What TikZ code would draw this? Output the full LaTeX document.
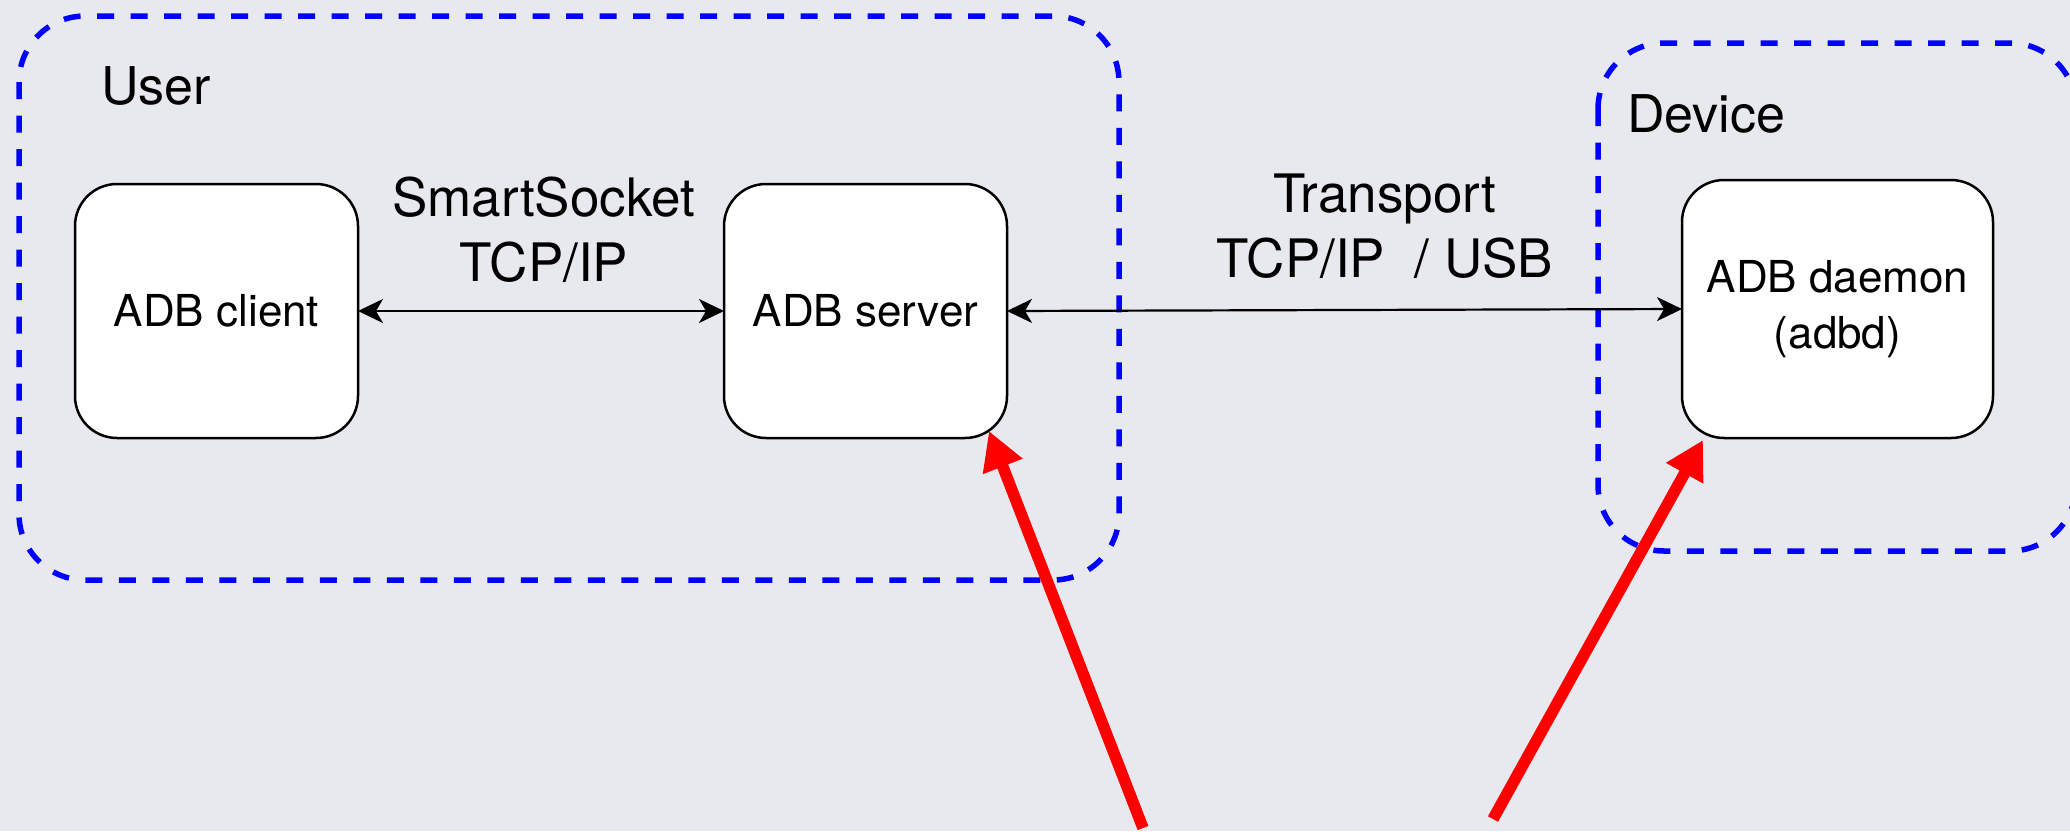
\documentclass[tikz,border=0pt]{standalone}
\usepackage{fontspec}
\setmainfont{TeX Gyre Heros}
\usetikzlibrary{arrows.meta}
\definecolor{bgpaper}{HTML}{E8E9EE}
\definecolor{zoneblue}{HTML}{0000FF}
\definecolor{callred}{HTML}{FF0000}
\tikzset{
  zone/.style={draw=zoneblue, line width=5.5pt, dash pattern=on 17pt off 16.5pt, rounded corners=66pt},
  comp/.style={draw=black, fill=white, line width=2.5pt, rounded corners=42pt, outer sep=0pt,
    inner sep=0pt, align=center, font=\fontsize{44}{56}\selectfont},
  zonelabel/.style={inner sep=0pt, font=\fontsize{52}{64}\selectfont},
  linklabel/.style={inner sep=0pt, align=center, font=\fontsize{53}{65}\selectfont},
  link/.style={line width=2.2pt, {Stealth[length=25pt, width=24pt, inset=7pt]}-{Stealth[length=25pt, width=24pt, inset=7pt]}},
  callout/.style={draw=callred, line width=11.5pt, -{Triangle[length=38pt, width=40pt]}, callred}
}
\begin{document}
\begin{tikzpicture}[x=1pt, y=-1pt]
  % canvas
  \fill[bgpaper] (0,0) rectangle (2070,831);
  \useasboundingbox (0,0) rectangle (2070,831);

  % dashed zones
  \draw[zone] (19,16) rectangle (1119,580);
  \draw[zone] (1598,43) rectangle (2076,551);
  \node[zonelabel, anchor=base west] (userlbl) at (101,104) {User};
  \node[zonelabel, anchor=base west] (devlbl) at (1627,132) {Device};

  % components
  \node[comp, minimum width=283pt, minimum height=254pt] (client) at (216.5,311) {ADB client};
  \node[comp, minimum width=283pt, minimum height=254pt] (server) at (865.5,311) {ADB server};
  \node[comp, minimum width=311pt, minimum height=258pt] (daemon) at (1837.5,309) {ADB daemon\\(adbd)};

  % links
  \draw[link] (client.east) -- (server.west);
  \draw[link] (server.east) -- (daemon.west);
  \node[linklabel] (sslbl) at (544,230) {SmartSocket\\TCP/IP};
  \node[linklabel] (trlbl) at (1385,226) {Transport\\TCP/IP~~/ USB};

  % red pointers
  \coordinate (tail1) at (1143,828);
  \coordinate (tail2) at (1493,819);
  \draw[callout] (tail1) -- ([shift={(-18,-7)}]server.south east);
  \draw[callout] (tail2) -- ([shift={(21,2)}]daemon.south west);
\end{tikzpicture}
\end{document}
